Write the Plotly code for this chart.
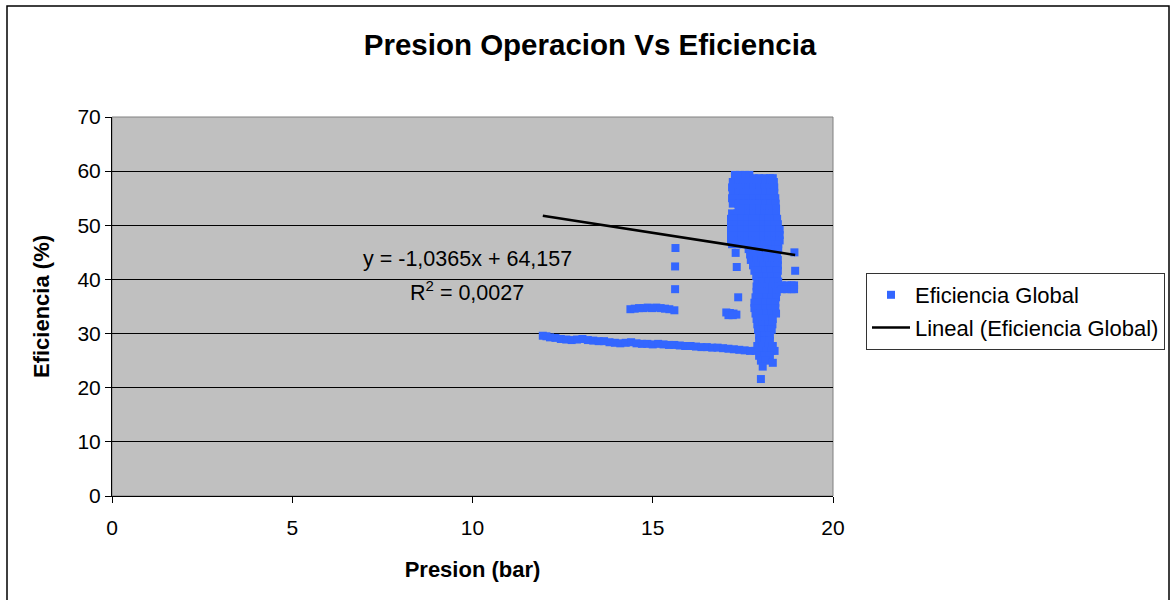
import plotly.graph_objects as go

# ---------------- data ----------------
low_band_x = [11.95, 12.05, 12.15, 12.3, 12.45, 12.6, 12.75, 12.9, 13.05, 13.2, 13.35, 13.5,
              13.65, 13.8, 13.95, 14.1, 14.25, 14.4, 14.55, 14.7, 14.85, 15.0, 15.15, 15.3,
              15.45, 15.6, 15.75, 15.9, 16.05, 16.2, 16.35, 16.5, 16.65, 16.8, 16.95, 17.1,
              17.25, 17.4, 17.55, 17.7]
low_band_y = [29.6, 29.5, 29.3, 29.2, 29.0, 28.9, 28.8, 28.9, 29.0, 28.8, 28.7, 28.6,
              28.6, 28.4, 28.3, 28.2, 28.3, 28.4, 28.2, 28.1, 28.1, 28.0, 28.1, 28.0,
              27.9, 27.9, 27.8, 27.7, 27.7, 27.6, 27.5, 27.5, 27.4, 27.4, 27.3, 27.2,
              27.1, 27.0, 26.9, 26.8]

mid_band_x = [14.38, 14.5, 14.62, 14.74, 14.86, 14.98, 15.1, 15.22, 15.34, 15.46, 15.6,
              15.63, 15.62, 15.62]
mid_band_y = [34.5, 34.6, 34.7, 34.7, 34.8, 34.7, 34.8, 34.7, 34.6, 34.5, 34.3,
              45.8, 42.4, 38.2]

isolated_x = [17.3, 17.33, 17.37, 18.93, 18.95, 17.04, 17.14, 17.24, 17.32, 17.1, 17.22]
isolated_y = [44.9, 42.3, 36.7, 45.0, 41.6, 33.9, 33.8, 33.7, 33.5, 33.4, 33.4]

cluster_x = [
    17.28, 17.42, 17.56, 17.68,
    17.8, 17.95, 18.1, 18.25, 18.33,
    17.22, 17.37, 17.52, 17.67, 17.82, 17.97, 18.12, 18.27, 18.36,
    17.2, 17.35, 17.5, 17.65, 17.8, 17.95, 18.1, 18.25, 18.37,
    17.22, 17.37, 17.52, 17.67, 17.82, 17.97, 18.12, 18.27, 18.37,
    17.2, 17.35, 17.5, 17.65, 17.8, 17.95, 18.1, 18.25, 18.4,
    17.22, 17.37, 17.52, 17.67, 17.82, 17.97, 18.12, 18.27, 18.41,
    17.38, 17.5, 17.65, 17.8, 17.95, 18.1, 18.25, 18.42,
    17.2, 17.35, 17.5, 17.65, 17.8, 17.95, 18.1, 18.25, 18.42,
    17.17, 17.32, 17.47, 17.62, 17.77, 17.92, 18.07, 18.22, 18.37, 18.45,
    17.17, 17.32, 17.47, 17.62, 17.77, 17.92, 18.07, 18.22, 18.37, 18.47,
    17.17, 17.32, 17.47, 17.62, 17.77, 17.92, 18.07, 18.22, 18.37, 18.52,
    17.17, 17.32, 17.47, 17.62, 17.77, 17.92, 18.07, 18.22, 18.37, 18.52,
    17.17, 17.32, 17.47, 17.62, 17.77, 17.92, 18.07, 18.22, 18.37, 18.52,
    17.2, 17.35, 17.5, 17.65, 17.8, 17.95, 18.1, 18.25, 18.4, 18.48,
    17.66, 17.8, 17.95, 18.1, 18.25, 18.4, 18.48,
    17.7, 17.85, 18.0, 18.15, 18.3, 18.45,
    17.72, 17.87, 18.02, 18.17, 18.32, 18.47,
    17.78, 17.93, 18.08, 18.23, 18.38, 18.47,
    17.82, 17.97, 18.12, 18.27, 18.42, 18.47,
    17.87, 18.0, 18.15, 18.3, 18.45,
    17.9, 18.05, 18.2, 18.35, 18.48,
    18.58, 18.72, 18.85, 18.92,
    17.88, 18.03, 18.18, 18.33, 18.48,
    18.58, 18.72, 18.85, 18.92,
    17.88, 18.03, 18.18, 18.33, 18.44,
    17.85, 18.0, 18.15, 18.3, 18.42,
    17.82, 17.97, 18.12, 18.27, 18.4,
    17.82, 17.97, 18.12, 18.27, 18.4,
    17.85, 18.0, 18.15, 18.3, 18.42,
    17.88, 18.03, 18.18, 18.33,
    17.9, 18.05, 18.2, 18.32,
    17.92, 18.07, 18.22, 18.3,
    17.95, 18.1, 18.25,
    17.95, 18.1, 18.25,
    17.9, 18.05, 18.2, 18.33,
    17.85, 18.0, 18.15, 18.3, 18.38,
    17.95, 18.1, 18.25,
    18.0, 18.12,
    18.33, 18.05, 18.0,
]
cluster_y = [
    59.3, 59.3, 59.3, 59.3,
    58.7, 58.7, 58.7, 58.7, 58.7,
    58.0, 58.0, 58.0, 58.0, 58.0, 58.0, 58.0, 58.0, 58.0,
    57.0, 57.0, 57.0, 57.0, 57.0, 57.0, 57.0, 57.0, 57.0,
    56.0, 56.0, 56.0, 56.0, 56.0, 56.0, 56.0, 56.0, 56.0,
    55.0, 55.0, 55.0, 55.0, 55.0, 55.0, 55.0, 55.0, 55.0,
    54.0, 54.0, 54.0, 54.0, 54.0, 54.0, 54.0, 54.0, 54.0,
    53.1, 53.1, 53.1, 53.1, 53.1, 53.1, 53.1, 53.1,
    52.2, 52.2, 52.2, 52.2, 52.2, 52.2, 52.2, 52.2, 52.2,
    51.2, 51.2, 51.2, 51.2, 51.2, 51.2, 51.2, 51.2, 51.2, 51.2,
    50.2, 50.2, 50.2, 50.2, 50.2, 50.2, 50.2, 50.2, 50.2, 50.2,
    49.2, 49.2, 49.2, 49.2, 49.2, 49.2, 49.2, 49.2, 49.2, 49.2,
    48.2, 48.2, 48.2, 48.2, 48.2, 48.2, 48.2, 48.2, 48.2, 48.2,
    47.2, 47.2, 47.2, 47.2, 47.2, 47.2, 47.2, 47.2, 47.2, 47.2,
    46.5, 46.5, 46.5, 46.5, 46.5, 46.5, 46.5, 46.5, 46.5, 46.5,
    45.6, 45.6, 45.6, 45.6, 45.6, 45.6, 45.6,
    44.6, 44.6, 44.6, 44.6, 44.6, 44.6,
    43.6, 43.6, 43.6, 43.6, 43.6, 43.6,
    42.6, 42.6, 42.6, 42.6, 42.6, 42.6,
    41.6, 41.6, 41.6, 41.6, 41.6, 41.6,
    40.6, 40.6, 40.6, 40.6, 40.6,
    39.6, 39.6, 39.6, 39.6, 39.6,
    38.9, 38.9, 38.9, 38.9,
    38.7, 38.7, 38.7, 38.7, 38.7,
    38.2, 38.2, 38.2, 38.2,
    37.7, 37.7, 37.7, 37.7, 37.7,
    36.7, 36.7, 36.7, 36.7, 36.7,
    35.7, 35.7, 35.7, 35.7, 35.7,
    34.7, 34.7, 34.7, 34.7, 34.7,
    33.7, 33.7, 33.7, 33.7, 33.7,
    32.7, 32.7, 32.7, 32.7,
    31.7, 31.7, 31.7, 31.7,
    30.7, 30.7, 30.7, 30.7,
    29.7, 29.7, 29.7,
    28.7, 28.7, 28.7,
    27.7, 27.7, 27.7, 27.7,
    26.8, 26.8, 26.8, 26.8, 26.8,
    25.9, 25.9, 25.9,
    25.0, 25.0,
    24.6, 23.9, 21.6,
]

trend_slope = -1.0365
trend_intercept = 64.157
trend_label = "y = -1,0365x + 64,157"
r2_label = "R<sup>2</sup> = 0,0027"

x_ticks = [0, 5, 10, 15, 20]
y_ticks = [0, 10, 20, 30, 40, 50, 60, 70]

# ---------------- figure ----------------
pres = low_band_x + mid_band_x + isolated_x + cluster_x
efic = low_band_y + mid_band_y + isolated_y + cluster_y

x_min, x_max = min(pres), max(pres)
trend_x = [x_min, x_max]
trend_y = [trend_slope * v + trend_intercept for v in trend_x]

FONT = "Liberation Sans, Arial, sans-serif"

fig = go.Figure()
fig.add_trace(go.Scatter(
    x=pres, y=efic, mode="markers", name="Eficiencia Global",
    marker=dict(symbol="square", size=8, color="#3366FF", line=dict(width=0)),
    legendgroup="a",
))
fig.add_trace(go.Scatter(
    x=trend_x, y=trend_y, mode="lines", name="Lineal (Eficiencia Global)",
    line=dict(color="black", width=2.5), legendgroup="b",
))

L, R, T, B = 112, 337, 117, 104
W, H = 1170, 600
pw, ph = W - L - R, H - T - B

def px_x(p):
    return (p - L) / pw

def px_y(p):
    return (H - B - p) / ph

fig.update_layout(
    width=W, height=H,
    margin=dict(l=L, r=R, t=T, b=B, pad=0, autoexpand=False),
    paper_bgcolor="white",
    plot_bgcolor="#C0C0C0",
    font=dict(family=FONT, size=22, color="black"),
    title=dict(text="<b>Presion Operacion Vs Eficiencia</b>",
               font=dict(family=FONT, size=29.5, color="black"),
               x=px_x(590), xanchor="center", xref="paper",
               y=1 - 45 / H, yanchor="middle"),
    xaxis=dict(range=[0, 20], tickvals=x_ticks, ticks="outside", ticklen=6,
               tickcolor="black", showline=True, linecolor="black", linewidth=1,
               showgrid=False, zeroline=False, ticklabelstandoff=7,
               title=dict(text="<b>Presion (bar)</b>", font=dict(size=22), standoff=23),
               tickfont=dict(size=21)),
    yaxis=dict(range=[0, 70], tickvals=y_ticks, ticks="outside", ticklen=6,
               tickcolor="black", showline=True, linecolor="black", linewidth=1,
               showgrid=True, gridcolor="black", gridwidth=1, zeroline=False,
               title=dict(text="<b>Eficiencia (%)</b>", font=dict(size=22), standoff=21),
               tickfont=dict(size=21)),
    legend=dict(x=px_x(866), y=px_y(273), xanchor="left", yanchor="top",
                bgcolor="white", bordercolor="#333333", borderwidth=1,
                font=dict(size=22), tracegroupgap=1, traceorder="grouped",
                itemwidth=38),
    showlegend=True,
)

# plot area border (gray) and outer chart border
fig.add_shape(type="rect", xref="paper", yref="paper", x0=0, x1=1, y0=0, y1=1,
              line=dict(color="#808080", width=1), layer="below")
fig.add_shape(type="rect", xref="paper", yref="paper",
              x0=px_x(7), x1=px_x(1169), y0=px_y(620), y1=px_y(6),
              line=dict(color="black", width=1.5))

fig.add_annotation(x=px_x(467), y=px_y(259), xref="paper", yref="paper",
                   text=trend_label, showarrow=False, font=dict(size=21.5))
fig.add_annotation(x=px_x(467), y=px_y(291), xref="paper", yref="paper",
                   text=r2_label, showarrow=False, font=dict(size=21.5))

fig.write_html("out.html", config={"displayModeBar": False},
               post_script="document.body.style.margin='0';")
